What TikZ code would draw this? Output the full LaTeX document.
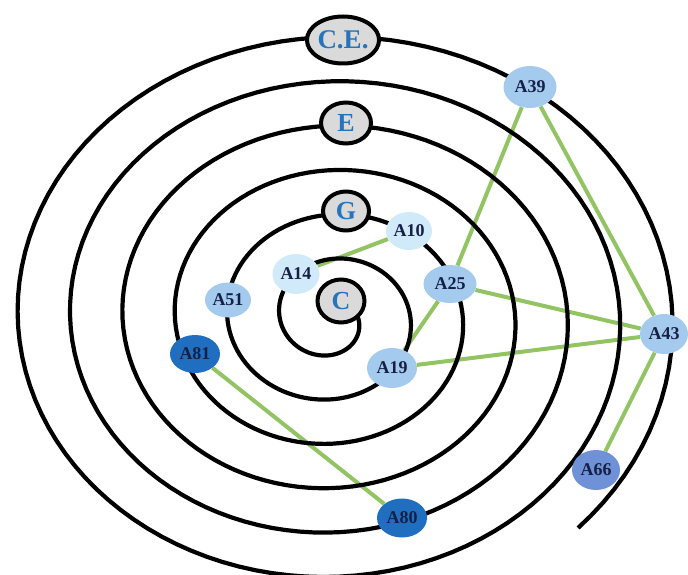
\documentclass[tikz,border=0pt]{standalone}
\usepackage{fontspec}
\setmainfont{Liberation Serif}
\usetikzlibrary{shapes.geometric}

\definecolor{ringgray}{RGB}{218,218,218}
\definecolor{letterblue}{RGB}{40,116,186}
\definecolor{navytext}{RGB}{22,32,70}
\definecolor{palefill}{RGB}{208,234,250}
\definecolor{midfill}{RGB}{164,202,238}
\definecolor{deepfill}{RGB}{31,110,192}
\definecolor{violetfill}{RGB}{110,145,215}
\definecolor{linkgreen}{RGB}{146,196,100}

\pgfdeclarelayer{links}
\pgfdeclarelayer{coil}
\pgfsetlayers{links,coil,main}

\tikzset{
  coilline/.style={draw=black, line width=4.2pt, line join=round},
  ring/.style={ellipse, draw=black, line width=4pt, fill=ringgray,
    text=letterblue, inner sep=0pt, font=\bfseries\fontsize{26}{26}\selectfont},
  anode/.style={ellipse, inner sep=0pt, text=navytext,
    font=\bfseries\fontsize{18}{18}\selectfont},
  pale/.style={anode, fill=palefill},
  mid/.style={anode, fill=midfill},
  deep/.style={anode, fill=deepfill},
  violet/.style={anode, fill=violetfill},
  link/.style={draw=linkgreen, line width=4pt},
}

\begin{document}
\begin{tikzpicture}[x={(1pt,0pt)}, y={(0pt,-1pt)}]
  \useasboundingbox (0,0) rectangle (688,575);

  % level rings
  \node[ring, minimum width=63pt, minimum height=47pt, font=\bfseries\fontsize{27}{27}\selectfont] (CE) at (343,40) {C.E.};
  \node[ring, minimum width=50pt, minimum height=41pt] (E) at (346,123) {E};
  \node[ring, minimum width=46pt, minimum height=39pt] (G) at (346,211) {G};
  \node[ring, minimum width=47pt, minimum height=43pt] (C) at (341,301) {C};

  % actors
  \node[pale, minimum width=46pt, minimum height=38pt] (A10) at (409,231) {A10};
  \node[pale, minimum width=47pt, minimum height=40pt] (A14) at (296,274) {A14};
  \node[mid, minimum width=53pt, minimum height=38pt] (A25) at (450,284) {A25};
  \node[mid, minimum width=46pt, minimum height=35pt] (A51) at (228,300) {A51};
  \node[mid, minimum width=50pt, minimum height=40pt] (A19) at (392,368) {A19};
  \node[deep, minimum width=50pt, minimum height=38pt] (A81) at (195,354) {A81};
  \node[mid, minimum width=53pt, minimum height=42pt] (A39) at (530,87) {A39};
  \node[mid, minimum width=48pt, minimum height=40pt] (A43) at (664,334) {A43};
  \node[violet, minimum width=48pt, minimum height=40pt] (A66) at (596,470) {A66};
  \node[deep, minimum width=50pt, minimum height=39pt] (A80) at (402,518) {A80};

  % the spiral, from the centre outwards
  \begin{pgfonlayer}{coil}
    \draw[coilline] plot[domain=-0.3:24.5, samples=700, variable=\t]
      ({332+(26.1+13.1*\t)*cos(90*\t)}, {318+(25.8+11.1*\t)*sin(90*\t)});
  \end{pgfonlayer}

  % links between actors
  \begin{pgfonlayer}{links}
    \draw[link] (A14) -- (A10);
    \draw[link] (A39) -- (A25);
    \draw[link] (A25) -- (A19);
    \draw[link] (A25) -- (A43);
    \draw[link] (A19) -- (A43);
    \draw[link] (A39) -- (A43);
    \draw[link] (A43) -- (A66);
    \draw[link] (A81) -- (A80);
  \end{pgfonlayer}
\end{tikzpicture}
\end{document}
